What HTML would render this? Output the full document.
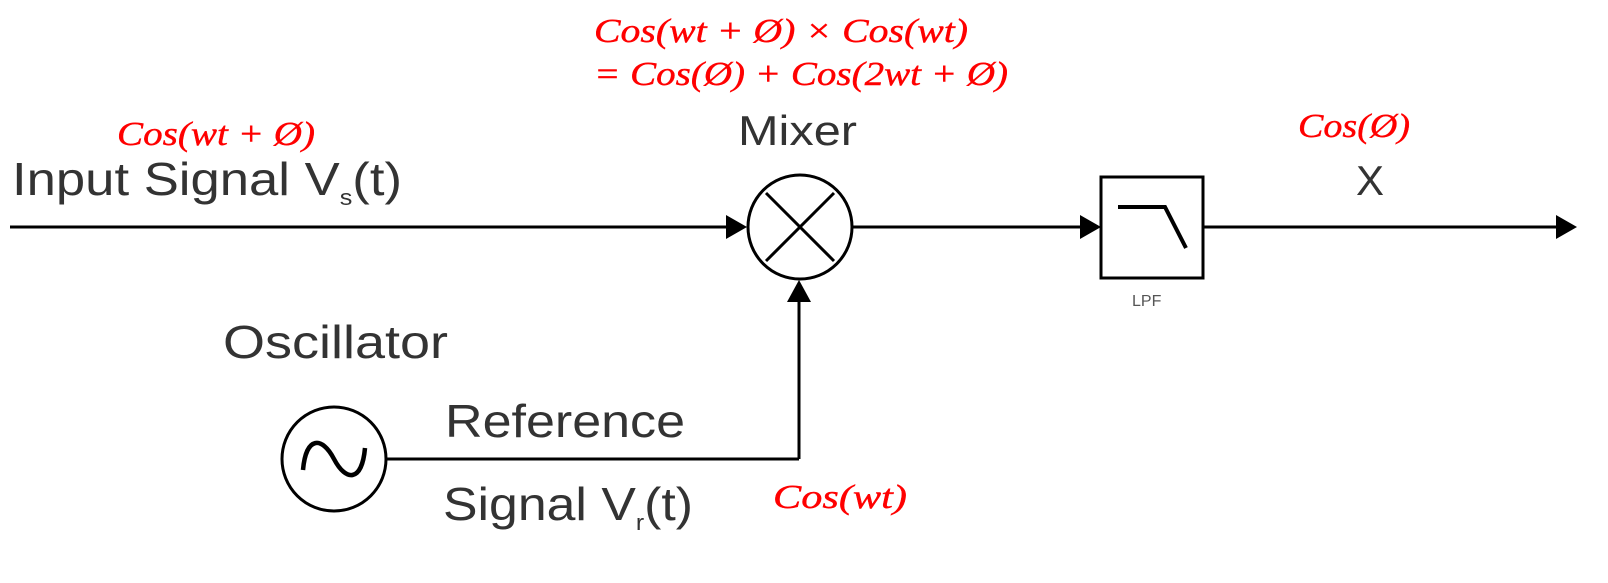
<!DOCTYPE html>
<html><head><meta charset="utf-8"><style>
html,body{margin:0;padding:0;background:#fff;width:1608px;height:583px;overflow:hidden}
svg{display:block}
.b{font-family:"Liberation Sans",sans-serif;fill:#333}
.r{font-family:"Liberation Serif",serif;font-style:italic;fill:#f00;stroke:#f00;stroke-width:0.4}
</style></head><body>
<svg width="1608" height="583" viewBox="0 0 1608 583" xmlns="http://www.w3.org/2000/svg">
<g stroke="#000" stroke-width="3" fill="none">
<line x1="10" y1="227" x2="730" y2="227"/>
<circle cx="800" cy="227" r="52"/>
<line x1="766" y1="193" x2="834" y2="261"/>
<line x1="834" y1="193" x2="766" y2="261"/>
<line x1="852" y1="227" x2="1084" y2="227"/>
<rect x="1101" y="177" width="102" height="101"/>
<polyline points="1118,207 1165,207 1186,248" stroke-width="4"/>
<line x1="1203" y1="227" x2="1558" y2="227"/>
<line x1="799" y1="298" x2="799" y2="459"/>
<line x1="799" y1="459" x2="387" y2="459"/>
<circle cx="334" cy="459" r="52"/>
<path d="M303,470 C306,436 322,436 334,459 C346,482 362,482 365,448" stroke-width="4.5"/>
</g>
<g fill="#000">
<polygon points="747,227 726,215 726,239"/>
<polygon points="1101,227 1080,215 1080,239"/>
<polygon points="1577,227 1556,215 1556,239"/>
<polygon points="799,280 787,302 811,302"/>
</g>
<text class="b" x="12" y="195" font-size="46" textLength="390" lengthAdjust="spacingAndGlyphs">Input Signal V<tspan font-size="22" dy="10">s</tspan><tspan dy="-10">(t)</tspan></text>
<text class="b" x="738" y="145" font-size="42" textLength="119" lengthAdjust="spacingAndGlyphs">Mixer</text>
<text class="b" x="1356" y="195" font-size="42">X</text>
<text class="b" x="1132" y="306" font-size="16" style="fill:#555">LPF</text>
<text class="b" x="223" y="358" font-size="46" textLength="225" lengthAdjust="spacingAndGlyphs">Oscillator</text>
<text class="b" x="445" y="437" font-size="46" textLength="240" lengthAdjust="spacingAndGlyphs">Reference</text>
<text class="b" x="443" y="520" font-size="46" textLength="250" lengthAdjust="spacingAndGlyphs">Signal V<tspan font-size="22" dy="10">r</tspan><tspan dy="-10">(t)</tspan></text>
<text class="r" x="117" y="145" font-size="34" textLength="198" lengthAdjust="spacingAndGlyphs">Cos(wt + Ø)</text>
<text class="r" x="594" y="42" font-size="34" textLength="374" lengthAdjust="spacingAndGlyphs">Cos(wt + Ø) × Cos(wt)</text>
<text class="r" x="594" y="85" font-size="34" textLength="414" lengthAdjust="spacingAndGlyphs">= Cos(Ø) + Cos(2wt + Ø)</text>
<text class="r" x="1298" y="137" font-size="34" textLength="112" lengthAdjust="spacingAndGlyphs">Cos(Ø)</text>
<text class="r" x="773" y="508" font-size="34" textLength="134" lengthAdjust="spacingAndGlyphs">Cos(wt)</text>
</svg>
</body></html>
